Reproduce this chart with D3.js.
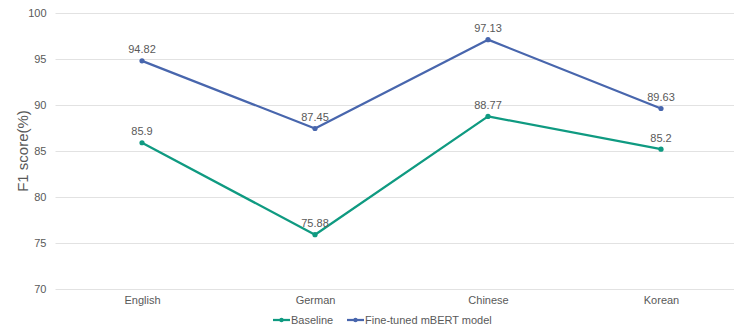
<!DOCTYPE html>
<html>
<head>
<meta charset="utf-8">
<script src="https://cdn.jsdelivr.net/npm/d3@7"></script>
<style>
  html, body { margin: 0; padding: 0; background: #fff; }
  svg { display: block; font-family: "Liberation Sans", Arial, sans-serif; }
</style>
</head>
<body>
<svg id="chart" width="734" height="328"></svg>
<script>
// Languages evaluated
const languages = ["English", "German", "Chinese", "Korean"];
// F1 scores (%) per language
const baselineScores = [85.9, 75.88, 88.77, 85.2];
const finetunedScores = [94.82, 87.45, 97.13, 89.63];
// Y axis ticks
const yTicks = [70, 75, 80, 85, 90, 95, 100];

const series = [
  { name: "Baseline", values: baselineScores, color: "#0f9a81" },
  { name: "Fine-tuned mBERT model", values: finetunedScores, color: "#4866ad" }
];

const svg = d3.select("#chart");
const margin = { left: 55.5, right: -13.5, top: 13.3, bottom: 39.3 };
const W = 734, H = 328;

const x = d3.scalePoint()
  .domain(languages)
  .range([margin.left, W - margin.right])
  .padding(0.5);

const y = d3.scaleLinear()
  .domain([70, 100])
  .range([H - margin.bottom, margin.top]);

const textColor = "#595959";

// Horizontal gridlines
svg.append("g")
  .selectAll("line")
  .data(yTicks)
  .join("line")
  .attr("x1", margin.left)
  .attr("x2", W - margin.right)
  .attr("y1", d => Math.round(y(d)) + 0.5)
  .attr("y2", d => Math.round(y(d)) + 0.5)
  .attr("stroke", "#e2e2e2")
  .attr("stroke-width", 1);

// Y axis labels
const yAxis = d3.axisLeft(y).tickValues(yTicks).tickSize(0).tickPadding(9);
const gy = svg.append("g")
  .attr("transform", `translate(${margin.left},0)`)
  .call(yAxis);
gy.select(".domain").remove();
gy.selectAll("text")
  .attr("fill", textColor)
  .attr("font-size", 11)
  .attr("font-family", "Liberation Sans, Arial, sans-serif");

// X axis labels
const xAxis = d3.axisBottom(x).tickSize(0).tickPadding(8);
const gx = svg.append("g")
  .attr("transform", `translate(0,${H - margin.bottom})`)
  .call(xAxis);
gx.select(".domain").remove();
gx.selectAll("text")
  .attr("fill", textColor)
  .attr("font-size", 11)
  .attr("font-family", "Liberation Sans, Arial, sans-serif");

// Y axis title
svg.append("text")
  .attr("transform", `translate(27.5,${(margin.top + H - margin.bottom) / 2}) rotate(-90)`)
  .attr("text-anchor", "middle")
  .attr("fill", textColor)
  .attr("font-size", 15)
  .text("F1 score(%)");

// Lines, markers and value labels
const line = d3.line()
  .x((d, i) => x(languages[i]))
  .y(d => y(d));

series.forEach(s => {
  const g = svg.append("g");
  g.append("path")
    .datum(s.values)
    .attr("d", line)
    .attr("fill", "none")
    .attr("stroke", s.color)
    .attr("stroke-width", 2.25)
    .attr("stroke-linejoin", "round");
  g.selectAll("circle")
    .data(s.values)
    .join("circle")
    .attr("cx", (d, i) => x(languages[i]))
    .attr("cy", d => y(d))
    .attr("r", 2.6)
    .attr("fill", s.color);
  g.selectAll("text")
    .data(s.values)
    .join("text")
    .attr("x", (d, i) => x(languages[i]))
    .attr("y", d => y(d) - 7.5)
    .attr("text-anchor", "middle")
    .attr("fill", textColor)
    .attr("font-size", 11)
    .text(d => d);
});

// Legend
const legendY = 320;
const legendX = [273, 347];
series.forEach((s, i) => {
  const g = svg.append("g").attr("transform", `translate(${legendX[i]},${legendY})`);
  g.append("line")
    .attr("x1", 0).attr("x2", 17)
    .attr("y1", 0).attr("y2", 0)
    .attr("stroke", s.color)
    .attr("stroke-width", 2.25);
  g.append("circle")
    .attr("cx", 8.5).attr("cy", 0).attr("r", 2.2)
    .attr("fill", s.color);
  g.append("text")
    .attr("x", 18)
    .attr("y", 4)
    .attr("fill", textColor)
    .attr("font-size", 11)
    .text(s.name);
});
</script>
</body>
</html>
